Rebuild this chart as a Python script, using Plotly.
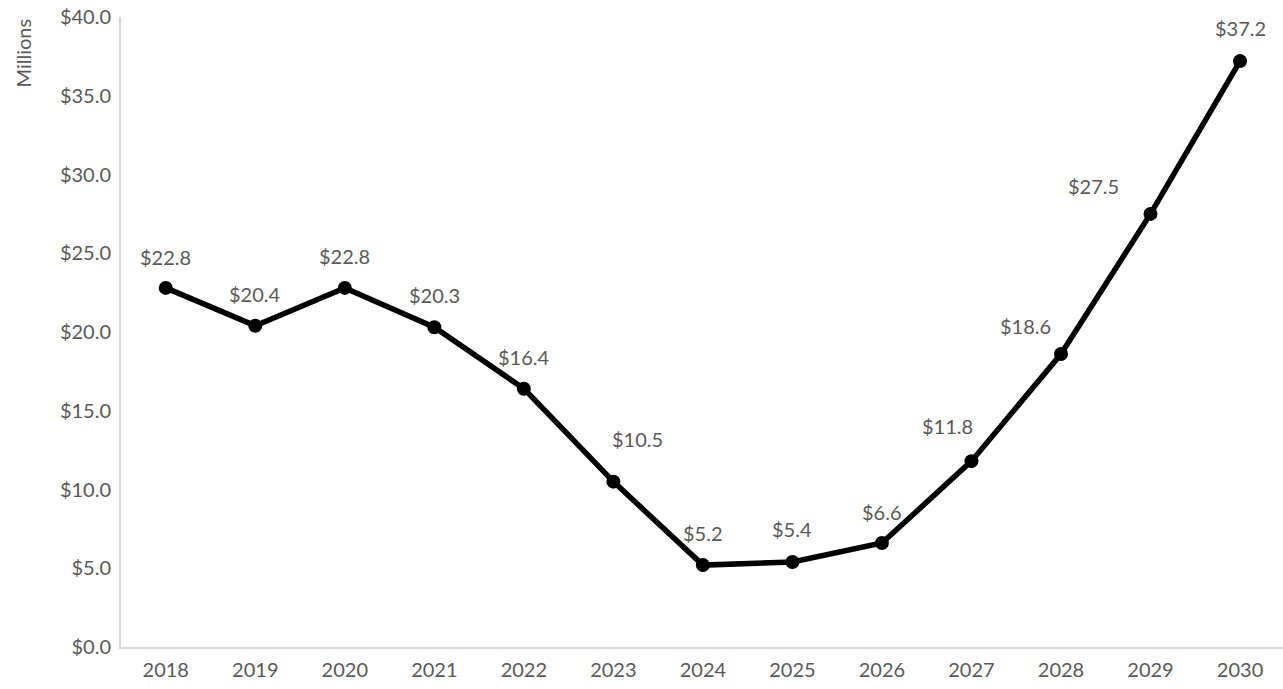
import plotly.graph_objects as go

years = ["2018", "2019", "2020", "2021", "2022", "2023", "2024",
         "2025", "2026", "2027", "2028", "2029", "2030"]
values = [22.8, 20.4, 22.8, 20.3, 16.4, 10.5, 5.2, 5.4, 6.6, 11.8, 18.6, 27.5, 37.2]
y_ticks = [0, 5, 10, 15, 20, 25, 30, 35, 40]
y_tick_labels = ["$%.1f" % v for v in y_ticks]

# label offsets (screen px) relative to each point
label_dx = [0, 0, 0, 0, 0, 24, 0, 0, 0, -24, -35, -57, 0]
label_dy = [31, 32, 32, 32, 32, 43, 32, 33, 31, 35, 28, 28, 33]

FONT = "Lato"
TXT = "#595959"
FS = 20

fig = go.Figure()
fig.add_trace(go.Scatter(
    x=list(range(len(years))), y=values, mode="lines+markers",
    line=dict(color="black", width=5.5),
    marker=dict(color="black", size=14),
    hoverinfo="skip", showlegend=False,
))

for i, v in enumerate(values):
    fig.add_annotation(
        x=i, y=v, text="$%.1f" % v, showarrow=False,
        xanchor="center", yanchor="middle",
        xshift=label_dx[i], yshift=label_dy[i],
        font=dict(family=FONT, size=FS, color=TXT),
    )

fig.add_annotation(
    xref="paper", yref="paper", x=0, y=1, xshift=-99, yshift=0,
    text="Millions", textangle=-90, showarrow=False,
    xanchor="center", yanchor="top",
    font=dict(family=FONT, size=FS, color=TXT),
)

fig.update_layout(
    width=1283, height=689,
    margin=dict(l=121, r=0, t=17, b=42),
    plot_bgcolor="white", paper_bgcolor="white",
    font=dict(family=FONT, size=FS, color=TXT),
    xaxis=dict(
        tickmode="array", tickvals=list(range(len(years))), ticktext=years,
        range=[-0.5, 12.48], showgrid=False, zeroline=False,
        showline=True, linecolor="#d9d9d9", linewidth=2, ticks="",
        ticklabelstandoff=4,
        tickfont=dict(family=FONT, size=FS, color=TXT),
    ),
    yaxis=dict(
        tickmode="array", tickvals=y_ticks, ticktext=y_tick_labels,
        range=[0, 40], showgrid=False, zeroline=False,
        showline=True, linecolor="#d9d9d9", linewidth=2, ticks="",
        ticklabelstandoff=4,
        tickfont=dict(family=FONT, size=FS, color=TXT),
    ),
)

fig.write_html(
    "out.html",
    config={"displayModeBar": False},
    post_script="document.body.style.margin='0';document.body.style.overflow='hidden';",
)
